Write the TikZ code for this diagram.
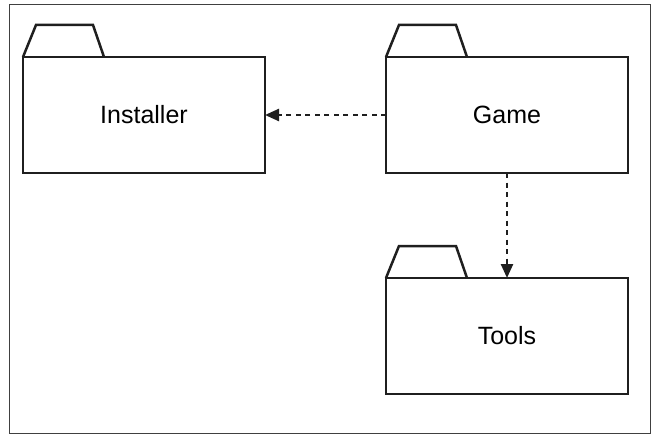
\documentclass[tikz,border=0pt]{standalone}
\usepackage{fontspec}
\setmainfont{Liberation Sans}
\usepackage{tikz}
\usetikzlibrary{positioning,arrows.meta}

\begin{document}
\begin{tikzpicture}[x=1pt, y=-1pt,
  pkg/.style={draw=black!88, line width=2.5pt, minimum width=242pt, minimum height=116pt,
    inner sep=0pt, outer sep=0pt, font=\fontsize{25}{30}\selectfont},
  dep/.style={draw=black!88, line width=2.4pt, dash pattern=on 5pt off 4.5pt,
    -{Triangle[length=14pt, width=12pt]}}]
\useasboundingbox (0,0) rectangle (651,436);
\draw[black!75, line width=1pt] (9.5,4.5) rectangle (650,433);
\node[pkg] (G) at (507,115) {Game};
\node[pkg, left=121pt of G] (I) {Installer};
\node[pkg, below=105pt of G] (T) {Tools};
% folder tabs
\foreach \p in {I,G,T}
  \draw[black!88, line width=2.5pt, line join=miter]
    (\p.north west) -- ++(13,-32) -- ++(57,0) -- ++(11,32);
\draw[dep] (G.west) -- (I.east);
\draw[dep] (G.south) -- (T.north);
\end{tikzpicture}
\end{document}
